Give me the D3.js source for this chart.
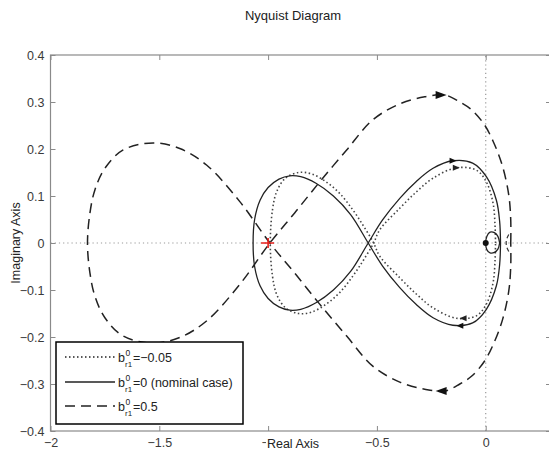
<!DOCTYPE html>
<html><head><meta charset="utf-8">
<script src="https://cdn.jsdelivr.net/npm/d3@7"></script>
<style>
body{margin:0;background:#fff;}
svg{display:block;font-family:"Liberation Sans",Arial,sans-serif;}
</style>
</head><body>
<svg id="chart" width="549" height="453"></svg>
<script>
// ---------- data ----------
const xTicks = [-2, -1.5, -1, -0.5, 0];
const xTickLabels = ["\u22122", "\u22121.5", "\u22121", "\u22120.5", "0"];
const yTicks = [0.4, 0.3, 0.2, 0.1, 0, -0.1, -0.2, -0.3, -0.4];
const yTickLabels = ["0.4", "0.3", "0.2", "0.1", "0", "\u22120.1", "\u22120.2", "\u22120.3", "\u22120.4"];

// b_r1^0 = 0.5 (dashed)
const dashedCurve = [
  [0.115, 0], [0.115, 0.049], [0.106, 0.102], [0.078, 0.162], [0.041, 0.209], [-0.005, 0.251],
  [-0.064, 0.283], [-0.119, 0.300], [-0.188, 0.315], [-0.280, 0.311], [-0.395, 0.296],
  [-0.519, 0.262], [-0.639, 0.198], [-0.763, 0.130], [-0.878, 0.064], [-0.992, 0],
  [-1.13, -0.088], [-1.283, -0.166], [-1.406, -0.201], [-1.528, -0.213], [-1.666, -0.198],
  [-1.75, -0.159], [-1.796, -0.113], [-1.819, -0.063], [-1.83, 0], [-1.819, 0.063],
  [-1.796, 0.113], [-1.75, 0.159], [-1.666, 0.198], [-1.528, 0.213], [-1.406, 0.201],
  [-1.283, 0.166], [-1.13, 0.088], [-0.992, 0], [-0.878, -0.064], [-0.763, -0.130],
  [-0.639, -0.198], [-0.519, -0.262], [-0.395, -0.296], [-0.280, -0.311], [-0.188, -0.315],
  [-0.119, -0.300], [-0.064, -0.283], [-0.005, -0.251], [0.041, -0.209], [0.078, -0.162],
  [0.106, -0.102], [0.115, -0.049], [0.115, 0]
];
const dashedTail = [[0.106, 0.018], [0.096, 0.008], [0.094, 0], [0.096, -0.008], [0.106, -0.018]];
const dashedArrows = [[-0.205, 0.315, 1], [-0.205, -0.315, -1]];

// b_r1^0 = 0 nominal (solid)
const solidCurve = [
  [0.068, 0], [0.064, 0.046], [0.049, 0.091], [0.003, 0.141], [-0.06, 0.170], [-0.151, 0.175],
  [-0.242, 0.159], [-0.319, 0.131], [-0.395, 0.095], [-0.474, 0.049], [-0.54, 0],
  [-0.62, -0.06], [-0.70, -0.10], [-0.78, -0.127], [-0.85, -0.141], [-0.90, -0.143],
  [-0.95, -0.136], [-1.0, -0.118], [-1.037, -0.091], [-1.062, -0.05], [-1.069, 0],
  [-1.062, 0.05], [-1.037, 0.091], [-1.0, 0.118], [-0.95, 0.136], [-0.90, 0.143],
  [-0.85, 0.141], [-0.78, 0.127], [-0.70, 0.10], [-0.62, 0.06], [-0.54, 0],
  [-0.474, -0.049], [-0.395, -0.095], [-0.319, -0.131], [-0.242, -0.159], [-0.151, -0.175],
  [-0.06, -0.170], [0.003, -0.141], [0.049, -0.091], [0.064, -0.046], [0.068, 0]
];
const solidLoop = [
  [0.064, 0], [0.056, 0.014], [0.04, 0.022], [0.02, 0.023], [0.005, 0.014], [0, 0],
  [0.005, -0.014], [0.02, -0.021], [0.04, -0.02], [0.056, -0.013], [0.064, 0]
];
const solidArrows = [[-0.150, 0.175, 1], [-0.119, -0.176, -1]];

// b_r1^0 = -0.05 (dotted)
const dottedCurve = [
  [0.045, 0], [0.043, 0.035], [0.034, 0.084], [0.003, 0.130], [-0.043, 0.155], [-0.135, 0.160],
  [-0.242, 0.138], [-0.318, 0.109], [-0.395, 0.074], [-0.487, 0.028], [-0.515, 0],
  [-0.56, -0.035], [-0.61, -0.07], [-0.67, -0.105], [-0.733, -0.130], [-0.80, -0.147],
  [-0.86, -0.150], [-0.92, -0.138], [-0.96, -0.11], [-0.98, -0.07], [-0.99, 0],
  [-0.98, 0.07], [-0.96, 0.11], [-0.92, 0.138], [-0.86, 0.150], [-0.80, 0.147],
  [-0.733, 0.130], [-0.67, 0.105], [-0.61, 0.07], [-0.56, 0.035], [-0.515, 0],
  [-0.487, -0.028], [-0.395, -0.074], [-0.318, -0.109], [-0.242, -0.138], [-0.135, -0.160],
  [-0.043, -0.155], [0.003, -0.130], [0.034, -0.084], [0.043, -0.035], [0.045, 0]
];
const dottedArrows = [[-0.135, 0.160, 1], [-0.104, -0.160, -1]];

const criticalPoint = [-1, 0];
const originPoint = [0, 0];

const legendLabels = [
  {sup: "0", sub: "r1", rest: "=\u22120.05", dash: "1.5,2.5"},
  {sup: "0", sub: "r1", rest: "=0 (nominal case)", dash: null},
  {sup: "0", sub: "r1", rest: "=0.5", dash: "10,6"}
];

// ---------- drawing ----------
const svg = d3.select("#chart");
const x = d3.scaleLinear().domain([-2, 0.3]).range([50.5, 551]);
const y = d3.scaleLinear().domain([-0.4, 0.4]).range([431, 55]);
const frameColor = "#8a8a8a";

svg.append("rect").attr("width", 549).attr("height", 453).attr("fill", "#fff");

// zero lines
svg.append("line").attr("x1", x.range()[0]).attr("x2", x.range()[1])
  .attr("y1", y(0)).attr("y2", y(0))
  .attr("stroke", "#999").attr("stroke-width", 1.2).attr("stroke-dasharray", "1.2,3");
svg.append("line").attr("x1", x(0)).attr("x2", x(0))
  .attr("y1", y.range()[0]).attr("y2", y.range()[1])
  .attr("stroke", "#999").attr("stroke-width", 1.2).attr("stroke-dasharray", "1.2,3");

const line = d3.line().x(d => x(d[0])).y(d => y(d[1])).curve(d3.curveCatmullRom.alpha(0.5));

svg.append("path").attr("d", line(dottedCurve)).attr("fill", "none")
  .attr("stroke", "#444").attr("stroke-width", 1.6).attr("stroke-dasharray", "1.5,2.5");
svg.append("path").attr("d", line(solidCurve)).attr("fill", "none")
  .attr("stroke", "#222").attr("stroke-width", 1.3);
svg.append("path").attr("d", line(solidLoop)).attr("fill", "none")
  .attr("stroke", "#222").attr("stroke-width", 1.3);
svg.append("path").attr("d", line(dashedCurve)).attr("fill", "none")
  .attr("stroke", "#222").attr("stroke-width", 1.5).attr("stroke-dasharray", "10,6");
svg.append("path").attr("d", line(dashedTail)).attr("fill", "none")
  .attr("stroke", "#333").attr("stroke-width", 1.2).attr("stroke-dasharray", "4,3");

function arrows(data, len, half, color) {
  svg.selectAll(null).data(data).enter().append("path")
    .attr("transform", d => `translate(${x(d[0])},${y(d[1])}) scale(${d[2]},1)`)
    .attr("d", `M${len/2},0L${-len/2},${-half}L${-len/2},${half}Z`)
    .attr("fill", color);
}
arrows(dashedArrows, 11, 4, "#111");
arrows(solidArrows, 7, 3, "#111");
arrows(dottedArrows, 7, 3, "#222");

// origin blob
svg.append("circle").attr("cx", x(originPoint[0])).attr("cy", y(originPoint[1]))
  .attr("r", 3).attr("fill", "#111");

// critical point -1
const cx = x(criticalPoint[0]), cy = y(criticalPoint[1]);
svg.append("path").attr("d", `M${cx-7},${cy}H${cx+6}M${cx},${cy-5}V${cy+5}`)
  .attr("stroke", "#e8201c").attr("stroke-width", 1.6).attr("fill", "none");

// frame
svg.append("rect").attr("x", x.range()[0]).attr("y", y.range()[1])
  .attr("width", x.range()[1] - x.range()[0]).attr("height", y.range()[0] - y.range()[1])
  .attr("fill", "none").attr("stroke", frameColor).attr("stroke-width", 1.2);

function styleAxis(g) {
  g.select(".domain").remove();
  g.selectAll(".tick line").attr("stroke", frameColor).attr("stroke-width", 1);
  g.selectAll(".tick text").attr("fill", "#3a3a3a").attr("font-size", 12.5)
    .attr("font-family", '"Liberation Sans",Arial,sans-serif');
}
svg.append("g").attr("transform", `translate(${x.range()[0]},0)`)
  .call(d3.axisLeft(y).tickValues(yTicks).tickSize(-5).tickPadding(6)
    .tickFormat((d, i) => yTickLabels[i])).call(styleAxis);
svg.append("g").attr("transform", `translate(${x.range()[1]},0)`)
  .call(d3.axisRight(y).tickValues(yTicks).tickSize(-5).tickFormat("")).call(styleAxis);
svg.append("g").attr("transform", `translate(0,${y.range()[1]})`)
  .call(d3.axisTop(x).tickValues(xTicks).tickSize(-5).tickFormat("")).call(styleAxis);
svg.append("g").attr("transform", `translate(0,${y.range()[0]})`)
  .call(d3.axisBottom(x).tickValues(xTicks).tickSize(-5).tickPadding(7)
    .tickFormat((d, i) => xTickLabels[i])).call(styleAxis);

// title and axis labels
svg.append("text").attr("x", 293).attr("y", 20).attr("text-anchor", "middle")
  .attr("font-size", 13).attr("fill", "#222").text("Nyquist Diagram");

const xl = svg.append("g");
const xlText = xl.append("text").attr("x", 293).attr("y", 448).attr("text-anchor", "middle")
  .attr("font-size", 12.5).attr("fill", "#222").text("Real Axis");
const bb = xlText.node().getBBox();
xl.insert("rect", "text").attr("x", bb.x - 1).attr("y", bb.y).attr("width", bb.width + 2)
  .attr("height", bb.height).attr("fill", "#fff");

svg.append("text").attr("transform", `translate(20,${y(0)}) rotate(-90)`)
  .attr("text-anchor", "middle").attr("font-size", 12.5).attr("fill", "#222").text("Imaginary Axis");

// legend
const lg = svg.append("g");
lg.append("rect").attr("x", 56).attr("y", 342).attr("width", 187).attr("height", 82)
  .attr("fill", "#fff").attr("stroke", "#000").attr("stroke-width", 1.5);
const rowY = [357, 382, 406];
legendLabels.forEach((d, i) => {
  const ry = rowY[i];
  const l = lg.append("line").attr("x1", 65).attr("x2", 115).attr("y1", ry).attr("y2", ry)
    .attr("stroke", "#222").attr("stroke-width", d.dash === "1.5,2.5" ? 1.6 : 1.4);
  if (d.dash) l.attr("stroke-dasharray", d.dash);
  lg.append("text").attr("x", 118).attr("y", ry + 4.5).attr("font-size", 12.5).attr("fill", "#222").text("b");
  lg.append("text").attr("x", 125.5).attr("y", ry - 1.5).attr("font-size", 8.5).attr("fill", "#222").text(d.sup);
  lg.append("text").attr("x", 125).attr("y", ry + 10).attr("font-size", 8).attr("fill", "#222").text(d.sub);
  lg.append("text").attr("x", 133).attr("y", ry + 4.5).attr("font-size", 12.5).attr("fill", "#222").text(d.rest);
});
</script>
</body></html>
